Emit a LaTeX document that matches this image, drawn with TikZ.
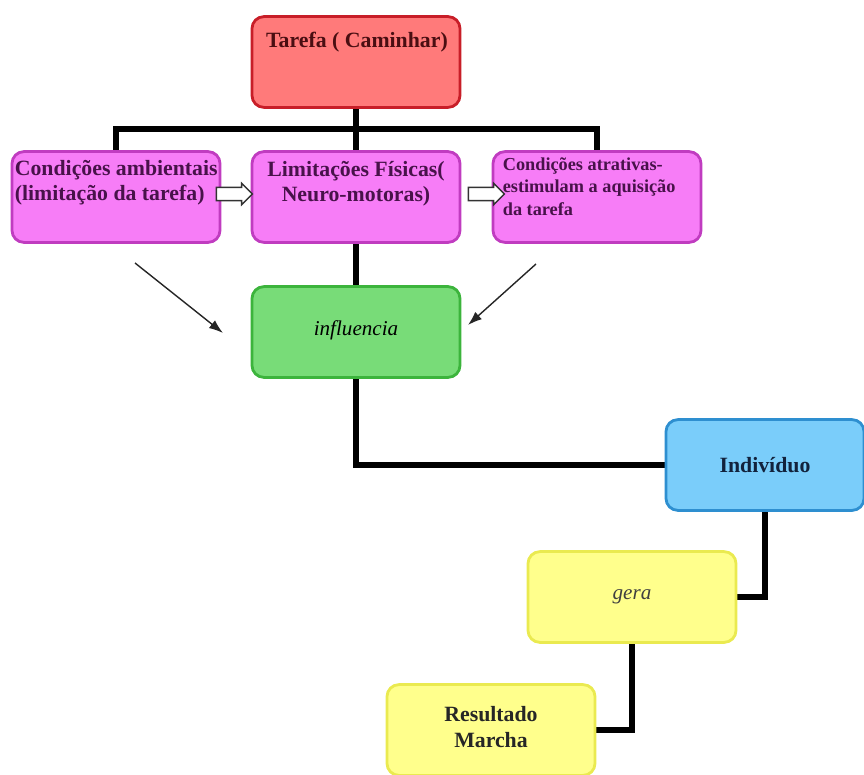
\documentclass[tikz,border=0pt]{standalone}
\usepackage{fontspec}
\setmainfont{Liberation Serif}
\usepackage{tikz}
\tikzset{>=latex}
\usetikzlibrary{calc}
\usetikzlibrary{arrows.meta}
\usetikzlibrary{shapes.arrows}
\usetikzlibrary{backgrounds}

\definecolor{redfill}{HTML}{FF7A7A}
\definecolor{redline}{HTML}{C81E28}
\definecolor{redtext}{HTML}{4A0E12}
\definecolor{pinkfill}{HTML}{F77DF7}
\definecolor{pinkline}{HTML}{C03CC0}
\definecolor{pinktext}{HTML}{48124A}
\definecolor{greenfill}{HTML}{78DC78}
\definecolor{greenline}{HTML}{3CB43C}
\definecolor{bluefill}{HTML}{7ACDFA}
\definecolor{blueline}{HTML}{2E8FD0}
\definecolor{bluetext}{HTML}{12223C}
\definecolor{yellowfill}{HTML}{FFFF8C}
\definecolor{yellowline}{HTML}{EAEA50}

\begin{document}
\begin{tikzpicture}[x=0.025cm,y=-0.025cm]
    \def\boxw{5.2cm}
    \def\boxh{2.27cm}

    \tikzset{
        box/.style={draw, rounded corners=0.3cm, line width=2pt, minimum width=\boxw, minimum height=\boxh},
        tarefabox/.style={box, fill=redfill, draw=redline},
        pinkbox/.style={box, fill=pinkfill, draw=pinkline},
        greenbox/.style={box, fill=greenfill, draw=greenline},
        bluebox/.style={box, fill=bluefill, draw=blueline, minimum width=4.95cm},
        yellowbox/.style={box, fill=yellowfill, draw=yellowline},
        boldtxt/.style={font=\fontsize{15.5}{18}\selectfont\bfseries, inner sep=0pt},
        link/.style={line width=4.2pt, line join=miter},
        thinarrow/.style={-{Latex[length=10pt,width=7pt]}, line width=1pt, draw=black!85},
        blockarrow/.style={single arrow, draw=black!80, fill=white, line width=1pt, minimum height=0.9cm, inner sep=4.2pt, single arrow head extend=2.9pt, single arrow head indent=0pt}
    }

    \useasboundingbox (0,0) rectangle (864,775);

    % Task
    \node[tarefabox] (tarefa) at (356,62) {};
    \node[boldtxt, text=redtext] (tarefatxt) at (357,42) {Tarefa ( Caminhar)};

    % Constraints
    \node[pinkbox] (amb) at (116,197) {};
    \node[boldtxt, text=pinktext, anchor=north west, align=left] (ambtxt) at ($(amb.north west)+(4,10)$) {Condições ambientais\\(limitação da tarefa)};

    \node[pinkbox] (lim) at (356,197) {};
    \node[boldtxt, text=pinktext, anchor=north, align=center] (limtxt) at ($(lim.north)+(0,11)$) {Limitações Físicas(\\Neuro-motoras)};

    \node[pinkbox] (atr) at (597,197) {};
    \node[boldtxt, font=\fontsize{13}{16}\selectfont\bfseries, text=pinktext, anchor=north west, align=left] (atrtxt) at ($(atr.north west)+(11,7)$) {Condições atrativas-\\estimulam a aquisição\\da tarefa};

    % Block arrows
    \node[blockarrow] (arr1) at (231,194) {};
    \node[blockarrow] (arr2) at (483,194) {};

    % Influence
    \node[greenbox] (infl) at (356,332) {};
    \node[font=\fontsize{15}{18}\selectfont\itshape] (infltxt) at (356,330) {influencia};

    \coordinate (inA) at (135,263);
    \coordinate (inB) at (223,333);
    \coordinate (inC) at (536,264);
    \coordinate (inD) at (468,325);
    \draw[thinarrow] (inA) -- (inB);
    \draw[thinarrow] (inC) -- (inD);

    % Individual
    \node[bluebox] (indiv) at (765,465) {};
    \node[boldtxt, text=bluetext] (indivtxt) at (765,465) {Indivíduo};

    % Generates
    \node[yellowbox] (gera) at (632,597) {};
    \node[font=\fontsize{15}{18}\selectfont\itshape, text=black!75] (geratxt) at (632,597) {gera};

    % Result
    \node[yellowbox] (res) at (491,730) {};
    \node[boldtxt, align=center, text=black!85] (restxt) at (491,727) {Resultado\\Marcha};

    % Connectors
    \begin{pgfonlayer}{background}
        \coordinate (hub) at ($(tarefa.south)+(0,20)$);
        \draw[link] (tarefa) -- (hub);
        \draw[link] (amb) |- (hub) -| (atr);
        \draw[link] (hub) -- (infl);
        \draw[link] (infl) |- (indiv);
        \draw[link] (indiv) |- (gera);
        \draw[link] (gera) |- (res);
    \end{pgfonlayer}
\end{tikzpicture}
\end{document}
